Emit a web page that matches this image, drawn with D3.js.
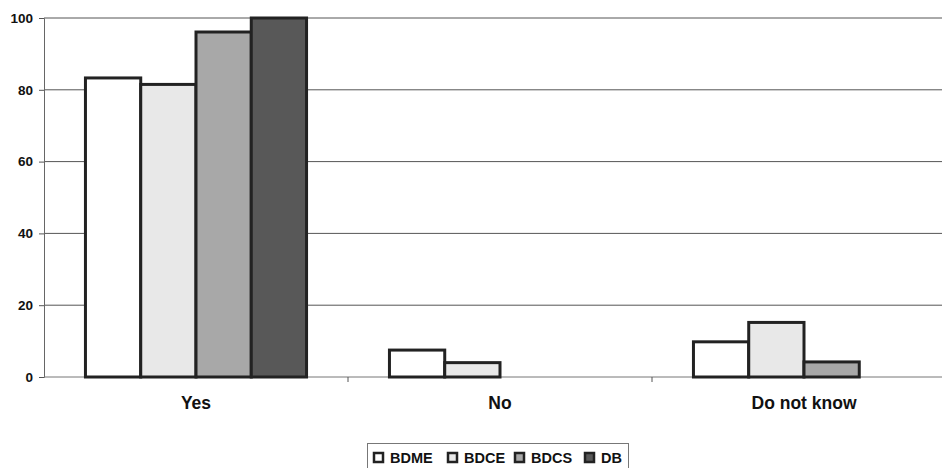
<!DOCTYPE html>
<html>
<head>
<meta charset="utf-8">
<script src="https://cdn.jsdelivr.net/npm/d3@7"></script>
<style>
  html, body { margin: 0; padding: 0; background: #fff; }
  svg { display: block; }
</style>
</head>
<body>
<svg id="chart" width="942" height="468"></svg>
<script>
const categories = ["Yes", "No", "Do not know"];
const seriesNames = ["BDME", "BDCE", "BDCS", "DB"];
const BDME = [83.3, 7.5, 9.8];
const BDCE = [81.5, 4.0, 15.2];
const BDCS = [96.1, 0, 4.2];
const DB = [100, 0, 0];
const yTicks = [0, 20, 40, 60, 80, 100];
const fills = ["#ffffff", "#e8e8e8", "#a8a8a8", "#585858"];

const seriesValues = [BDME, BDCE, BDCS, DB];
const svg = d3.select("#chart");
const m = { left: 44, top: 18, bottom: 377 };
const bandW = 304;
const right = m.left + bandW * categories.length;

const x = d3.scaleBand().domain(categories).range([m.left, right]).paddingInner(0).paddingOuter(0);
const y = d3.scaleLinear().domain([0, 100]).range([m.bottom, m.top]);
const groupW = x.bandwidth() * (4 / 5.5);
const xs = d3.scaleBand().domain(seriesNames).range([0, groupW]);

// gridlines
svg.append("g").selectAll("line").data(yTicks.filter(d => d > 0)).join("line")
  .attr("x1", m.left).attr("x2", 942)
  .attr("y1", d => y(d)).attr("y2", d => y(d))
  .attr("stroke", "#555").attr("stroke-width", 1);

// y axis
const yAxis = svg.append("g").attr("transform", `translate(${m.left},0)`)
  .call(d3.axisLeft(y).tickValues(yTicks).tickSize(5).tickPadding(6));
yAxis.select(".domain").attr("stroke", "#666");
yAxis.selectAll(".tick line").attr("stroke", "#555");
yAxis.selectAll("text").attr("font-family", "Liberation Sans, Arial, sans-serif")
  .attr("font-size", 13.5).attr("font-weight", "bold").attr("fill", "#111");

// x axis
const xAxis = svg.append("g").attr("transform", `translate(0,${m.bottom})`)
  .call(d3.axisBottom(x).tickSize(0).tickPadding(20));
xAxis.select(".domain").attr("stroke", "#777").attr("d", `M${m.left},0H942`);
xAxis.selectAll("text").attr("font-family", "Liberation Sans, Arial, sans-serif")
  .attr("font-size", 17.5).attr("font-weight", "bold").attr("fill", "#111");
svg.append("g").selectAll("line").data(categories.slice(1)).join("line")
  .attr("x1", d => x(d)).attr("x2", d => x(d))
  .attr("y1", m.bottom).attr("y2", m.bottom + 5)
  .attr("stroke", "#555");

// bars
const groups = svg.append("g").selectAll("g").data(categories).join("g")
  .attr("transform", d => `translate(${x(d) + (x.bandwidth() - groupW) / 2},0)`);
groups.selectAll("rect")
  .data((c, i) => seriesNames.map((s, k) => ({ s, k, v: seriesValues[k][i] })).filter(d => d.v > 0))
  .join("rect")
  .attr("x", d => xs(d.s))
  .attr("width", xs.bandwidth())
  .attr("y", d => y(d.v))
  .attr("height", d => y(0) - y(d.v))
  .attr("fill", d => fills[d.k])
  .attr("stroke", "#222").attr("stroke-width", 3);

// legend
const lg = svg.append("g").attr("transform", "translate(367.5,443.5)");
lg.append("rect").attr("x", 0).attr("y", 0).attr("width", 261).attr("height", 30)
  .attr("fill", "#fff").attr("stroke", "#777").attr("stroke-width", 1);
const itemX = [6.5, 80.5, 147.5, 217.5];
const items = lg.selectAll("g.item").data(seriesNames).join("g").attr("class", "item")
  .attr("transform", (d, i) => `translate(${itemX[i]},9.5)`);
items.append("rect").attr("width", 9).attr("height", 9)
  .attr("fill", (d, i) => fills[i]).attr("stroke", "#222").attr("stroke-width", 2.5);
items.append("text").attr("x", 16).attr("y", 10)
  .attr("font-family", "Liberation Sans, Arial, sans-serif")
  .attr("font-size", 14.5).attr("font-weight", "bold").attr("fill", "#111")
  .text(d => d);
</script>
</body>
</html>
